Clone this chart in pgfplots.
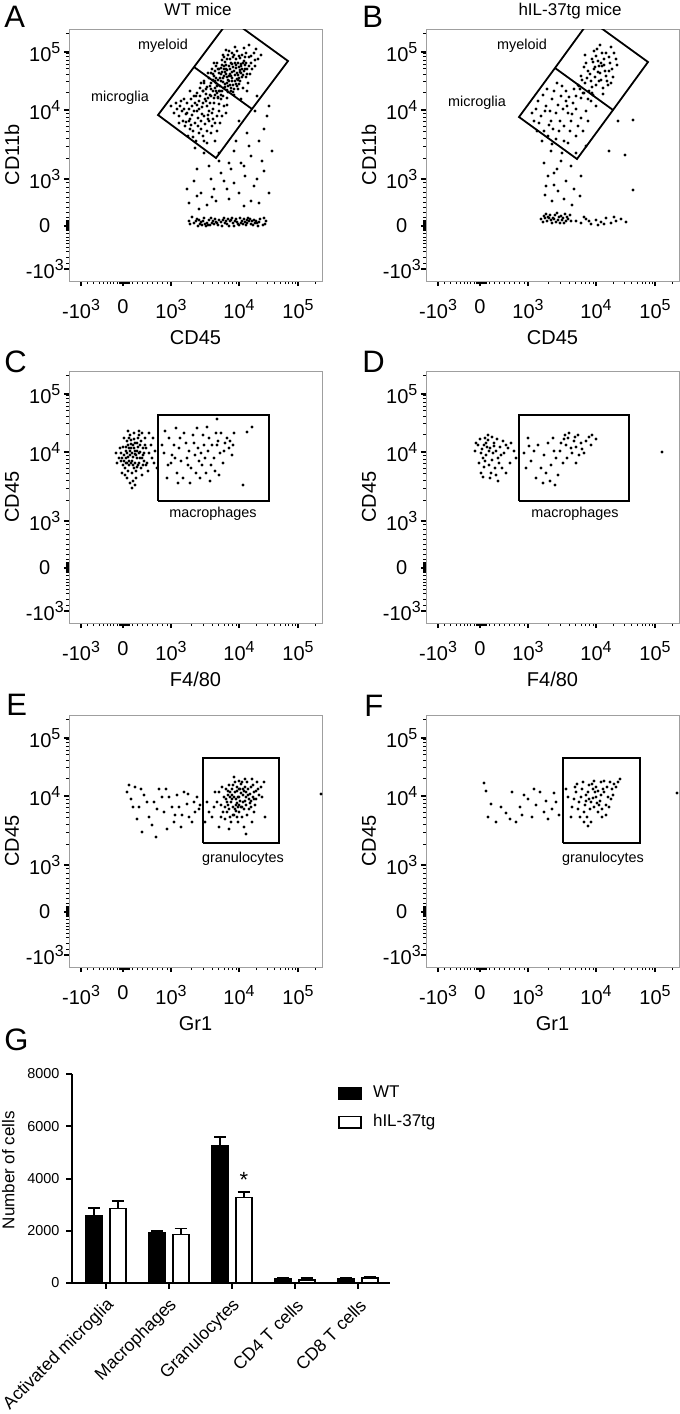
\documentclass[border=0pt]{standalone}
\usepackage{pgfplots}
\pgfplotsset{compat=1.18}
\usepackage{fontspec}
\setmainfont{Liberation Sans}
\newcommand{\tp}[1]{10\raisebox{3.8pt}{\fontsize{8}{8}\selectfont#1}}
\pgfplotsset{
  facs/.style={
    width=126.5pt, height=126pt, scale only axis,
    xmin=0, xmax=253, ymin=0, ymax=252,
    axis line style={gray!75, line width=0.4pt},
    tick align=outside, xtick pos=bottom, ytick pos=left,
    xtick={12,54,102,170,229}, ytick={12,55,102,171,229},
    xticklabels={-\tp{3},0,\tp{3},\tp{4},\tp{5}},
    yticklabels={-\tp{3},0,\tp{3},\tp{4},\tp{5}},
    minor xtick={18,24,30,34,38,41,44,48,50,51,52,53,55,56,57,58,59,60,63,68,73,78,83,88,93,98,122.5,134.4,143,149.5,155,159.5,163.4,167,187.8,198.2,205.5,211.2,216,219.9,223.3,226.3,246.8},
    minor ytick={18,24,30,34,38,41,44,48,51,52,53,54,56,57,58,59,60,61,64,69,74,79,84,89,94,99,122.5,134.4,143,149.5,155,159.5,163.4,167.5,188.8,199.2,206.5,212.2,217,220.9,224.3,227.3,247.8},
    major tick length=2.6pt, minor tick length=1.5pt,
    major tick style={black, line width=1.1pt},
    minor tick style={black, line width=0.45pt},
    tick label style={font=\fontsize{10}{11}\selectfont},
    xticklabel style={yshift=-3.2pt},
    yticklabel style={anchor=center, xshift=-9.5pt},
    label style={font=\fontsize{8.8}{10}\selectfont},
    every axis x label/.style={at={(axis description cs:0.5,-0.225)}, anchor=center},
    every axis y label/.style={at={(axis description cs:-0.225,0.5)}, rotate=90, anchor=center},
  },
  dots/.style={only marks, mark=*, mark size=0.5pt, mark options={draw=none, fill=black, fill opacity=#1}},
  dots/.default=0.5,
  gate/.style={black, line width=0.9pt, no marks, line join=miter},
  barleg/.style={legend image code/.code={\draw[##1] (0pt,-2.8pt) rectangle (11pt,2.8pt);}},
}
\tikzset{
  glab/.style={font=\fontsize{7.2}{8}\selectfont},
  plab/.style={anchor=base west, font=\fontsize{15.5}{16}\selectfont, inner sep=0pt},
}
\begin{document}
\begin{tikzpicture}
\useasboundingbox (0,0) rectangle (340pt,-707pt);

% ---------------- A ----------------
\node[plab] at (2pt,-13.5pt) {A};
\node[anchor=base, font=\fontsize{8.5}{10}\selectfont] at (99pt,-7.5pt) {WT mice};
\begin{axis}[facs, at={(34.5pt,-14.5pt)}, anchor=north west, xlabel={CD45}, ylabel={CD11b}]
\addplot[dots=0.4] coordinates {
(160,205) (152,200) (165,210) (170,214) (158,198) (148,195) (175,220) (168,202) (155,212) (162,218) (145,205) (172,208) (150,190) (178,212) (164,196) (157,207) (167,222) (153,216) (142,198) (171,200) (159,189) (180,224) (146,210) (163,228) (174,193) (151,203) (166,206) (156,194) (176,216) (149,184) (161,212) (169,218) (144,190) (182,218) (158,222) (154,199) (173,226) (140,203) (165,192) (185,228) (147,215) (177,204) (152,186) (168,230) (160,200) (143,212) (171,209) (157,216) (179,198) (150,208) (162,190) (186,215) (138,194) (170,225) (155,205) (175,233) (146,200) (164,214) (158,183) (181,207) (139,208) (167,197) (153,221) (189,222) (148,188) (172,217) (163,203) (159,226) (135,200) (178,190) (145,218) (166,234) (151,195) (183,212) (156,209) (174,206) (141,186) (169,192) (187,232) (154,226) (161,196) (176,224) (149,212) (134,190) (192,226) (165,186) (157,231) (180,236) (144,207) (170,203)
(161,207) (154,203) (167,213) (159,201) (163,209) (171,211) (156,197) (173,204) (149,201) (166,218) (158,211) (162,193) (175,210) (152,207) (168,195) (164,224) (147,198) (177,218) (155,215) (169,206)
(158,204) (163,200) (150,212) (166,200) (172,215) (160,215) (155,193) (168,208) (176,212) (153,209) (147,203) (161,222) (170,197) (157,212) (165,226) (174,218) (149,196) (180,215) (162,205) (144,201) (171,223) (159,195) (167,216) (152,213) (178,207) (156,219) (164,189) (173,212) (146,193) (182,225) (160,230) (151,190) (169,201) (155,224) (177,228) (142,208) (163,217) (186,221) (158,191) (148,218)
(130,180) (138,175) (125,170) (142,185) (120,160) (135,165) (145,178) (128,188) (115,172) (150,170) (140,160) (122,182) (132,152) (110,165) (147,190) (126,158) (137,192) (118,178) (152,182) (143,168) (108,172) (134,145) (124,150) (155,175) (129,163) (116,155) (146,158) (139,183) (121,190) (105,168) (133,174) (148,150) (127,140) (141,195) (112,180) (153,165) (136,157) (119,145) (144,172) (131,185) (102,175) (157,168) (123,166) (138,138) (114,160) (149,183) (128,176) (142,148) (120,172) (135,198) (110,158) (151,158) (125,185) (140,170) (117,167) (146,140) (132,160) (107,178) (154,185) (137,180) (126,133) (143,155) (121,152) (134,190) (113,170) (158,176) (130,148) (139,162)
(128,170) (136,182) (123,175) (141,178) (131,193) (118,168) (146,186) (133,167) (126,178) (139,166) (115,182) (144,162) (129,155) (137,187) (121,162) (150,177) (134,178) (111,175) (142,192) (127,185) (148,165) (124,144) (138,150) (117,159) (153,190) (130,172) (135,140) (122,156) (145,183) (132,198)
(170,160) (178,148) (186,170) (195,152) (165,130) (200,175) (182,125) (190,140) (172,182) (198,165) (175,115) (160,118) (188,185) (203,130)
(140,115) (152,108) (125,100) (165,98) (132,88) (176,105) (145,92) (160,82) (120,78) (185,95) (150,120) (128,112) (170,88) (138,76) (195,110) (155,100) (118,92) (182,80) (147,80) (162,112) (130,72) (190,78) (172,118) (142,102) (200,88)
(167,140) (180,135) (150,128) (193,120) (135,128) (158,92) (175,75) (128,85) (188,102) (143,84)
(120,60) (125,58) (128,62) (131,57) (134,60) (137,55) (140,61) (143,58) (146,62) (149,56) (152,59) (155,63) (158,57) (161,60) (164,58) (167,62) (170,56) (173,60) (176,59) (179,63) (182,57) (185,61) (188,58) (191,62) (194,56) (197,60) (123,64) (129,55) (135,63) (141,56) (147,59) (153,55) (159,62) (165,55) (171,63) (177,56) (183,60) (189,55) (195,63) (132,59) (138,58) (144,60) (150,61) (156,58) (162,61) (168,59) (174,57) (180,60) (186,58) (175,62) (130,61) (178,58) (133,56)
(121,57) (127,60) (136,57) (142,63) (148,58) (154,61) (160,55) (166,60) (172,58) (178,61) (184,56) (190,59) (196,57) (139,56) (157,60) (169,57) (181,62) (145,57) (163,63) (187,60)
};
\addplot[gate] coordinates {(161,262) (219,220) (183,172) (147,123) (89,166) (125,214) (161,262)};
\addplot[gate] coordinates {(125,214) (183,172)};
\node[glab] at (axis cs:94,235) {myeloid};
\node[glab] at (axis cs:51,183) {microglia};
\end{axis}

% ---------------- B ----------------
\node[plab] at (181pt,-13.5pt) {B};
\node[anchor=base, font=\fontsize{8.5}{10}\selectfont] at (285pt,-7.5pt) {hIL-37tg mice};
\begin{axis}[facs, at={(213pt,-14.5pt)}, anchor=north west, xlabel={CD45}, ylabel={CD11b}]
\addplot[dots=0.7] coordinates {
(174,208) (168,212) (180,205) (172,220) (165,200) (178,216) (170,196) (183,224) (162,210) (176,228) (186,212) (169,204) (159,198) (181,200) (173,215) (166,222) (188,228) (155,205) (177,193) (171,232) (163,190) (184,218) (158,214) (175,201) (167,186) (190,222) (179,210) (161,203) (185,234) (170,225) (152,196) (176,215) (164,207) (182,196) (157,188) (173,200) (187,204) (168,230) (160,218) (178,222) (150,185) (183,210) (166,194) (174,236) (156,201) (180,228) (169,214) (185,198) (162,182) (172,209) (154,192) (191,216) (167,219) (177,187) (159,226) (175,218)
(120,175) (130,168) (140,180) (125,160) (150,172) (135,185) (115,165) (145,160) (128,190) (155,183) (118,150) (138,155) (110,172) (148,192) (132,176) (122,145) (160,170) (142,168) (126,182) (113,158) (152,155) (136,195) (117,186) (158,188) (144,150) (130,142) (106,168) (165,180) (124,170) (140,190) (134,160) (112,180) (155,163) (127,152) (147,178) (121,192) (162,160) (137,172) (116,140) (150,145) (131,198) (143,184) (108,160) (170,175) (126,137) (157,150) (138,140) (119,170) (153,195) (133,150) (146,167) (123,156) (166,188) (111,150) (141,175)
(125,130) (135,120) (128,108) (145,115) (120,95) (140,100) (150,128) (132,90) (118,118) (155,105) (138,82) (126,80) (148,92) (160,135) (122,105) (142,138) (131,112) (154,85) (119,86) (136,128) (146,76) (128,96)
(207,161) (199,126) (207,91) (192,160) (183,130)
(115,62) (118,65) (121,60) (124,66) (127,63) (130,59) (133,64) (136,61) (139,67) (142,62) (145,60) (117,59) (120,67) (123,63) (126,58) (129,66) (132,61) (135,65) (138,58) (141,64) (144,66) (119,63) (125,61) (131,68) (137,63) (134,58) (128,62) (122,64) (140,60) (150,60) (155,58) (160,62) (165,57) (170,61) (175,59) (180,63) (185,58) (190,60) (195,62) (200,59) (158,64) (172,56) (188,64) (163,60) (178,57)
};
\addplot[gate] coordinates {(164,261) (222,219) (187,171) (151,122) (93,164) (129,213) (164,261)};
\addplot[gate] coordinates {(129,213) (187,171)};
\node[glab] at (axis cs:96,235) {myeloid};
\node[glab] at (axis cs:51,178) {microglia};
\end{axis}

% ---------------- C ----------------
\node[plab] at (2pt,-186pt) {C};
\begin{axis}[facs, at={(34.5pt,-185.5pt)}, anchor=north west, xlabel={F4/80}, ylabel={CD45}]
\addplot[dots=0.65] coordinates {
(64,166) (58,170) (70,160) (62,175) (55,162) (68,172) (74,168) (60,158) (66,180) (52,170) (72,155) (59,178) (77,175) (63,150) (56,155) (69,185) (50,165) (75,162) (61,168) (67,152) (54,176) (80,170) (65,190) (58,145) (71,178) (48,160) (73,148) (62,183) (57,172) (78,160) (66,160) (53,150) (70,192) (60,162) (82,178) (64,142) (55,185) (76,185) (68,165) (51,175) (63,170) (59,152) (74,175) (66,172) (57,165) (79,152) (61,188) (69,158) (54,158) (72,182) (65,155) (47,170) (83,165) (60,175) (67,145) (58,182) (75,170) (62,160) (70,170) (56,148) (64,178) (85,160) (59,192) (73,190) (66,138) (53,165) (77,158) (61,140) (68,180) (84,185) (57,160) (63,135) (71,165) (65,175) (80,190) (86,172) (88,155)
(61,172) (67,168) (57,176) (63,162) (69,176) (55,168) (71,171) (65,184) (59,166) (73,165) (62,179) (68,156) (58,160) (66,169) (76,178) (60,185) (64,158) (52,162) (70,188) (74,158)
(95,170) (102,160) (110,175) (118,165) (125,180) (132,170) (140,185) (148,178) (155,172) (100,185) (108,150) (115,190) (122,155) (130,162) (137,150) (145,165) (152,190) (160,175) (98,145) (105,178) (112,162) (120,172) (128,195) (135,178) (142,158) (150,148) (158,185) (163,168) (96,192) (103,168) (114,145) (124,188) (131,145) (139,172) (147,190) (154,160) (161,182) (107,195) (117,180) (127,150) (134,188) (143,178) (151,170) (99,158) (111,185) (121,140) (129,175) (138,196) (146,152) (156,180) (164,178) (106,165) (119,158) (136,165) (149,182) (93,178) (126,168) (141,142) (109,140) (133,158)
(174,138) (183,196) (148,204) (178,191) (165,190)
};
\addplot[gate] coordinates {(89,122) (200,122) (200,208) (89,208) (89,122)};
\node[glab] at (axis cs:144,109) {macrophages};
\end{axis}

% ---------------- D ----------------
\node[plab] at (181pt,-186pt) {D};
\begin{axis}[facs, at={(213pt,-185.5pt)}, anchor=north west, xlabel={F4/80}, ylabel={CD45}]
\addplot[dots=0.65] coordinates {
(64,175) (58,178) (70,172) (62,183) (55,170) (68,180) (74,176) (60,168) (66,186) (52,178) (72,165) (59,162) (77,182) (63,158) (56,174) (69,155) (50,180) (75,168) (61,176) (67,170) (54,184) (80,178) (65,150) (58,156) (71,184) (49,172) (73,160) (62,188) (57,165) (78,170) (66,163) (53,160) (70,148) (60,180) (82,175) (64,145) (55,150) (76,155) (68,177) (85,180) (63,172) (59,185) (88,172) (84,160) (90,165) (80,150) (72,142) (57,146)
(98,170) (105,162) (112,178) (120,150) (128,172) (135,180) (142,185) (148,182) (152,188) (140,178) (145,175) (150,176) (138,184) (155,180) (160,182) (165,178) (170,184) (102,185) (110,145) (118,168) (125,158) (132,148) (146,170) (158,170) (163,186) (108,172) (115,155) (122,180) (130,165) (137,160) (143,190) (156,174) (166,188) (100,155) (127,185) (134,172) (141,165) (149,186) (117,140) (124,142) (150,160) (103,177) (129,138) (139,188) (153,168)
(236,171)
};
\addplot[gate] coordinates {(93,122) (203,122) (203,208) (93,208) (93,122)};
\node[glab] at (axis cs:149,109) {macrophages};
\end{axis}

% ---------------- E ----------------
\node[plab] at (3pt,-357.5pt) {E};
\begin{axis}[facs, at={(34.5pt,-357.5pt)}, anchor=north west, xlabel={Gr1}, ylabel={CD45}]
\addplot[dots=0.65] coordinates {
(58,175) (62,168) (66,180) (70,160) (75,172) (80,150) (85,165) (90,178) (95,155) (100,170) (105,145) (110,160) (115,175) (120,150) (125,165) (130,158) (60,182) (68,148) (73,135) (78,165) (83,142) (88,158) (93,170) (98,138) (103,160) (108,172) (113,152) (118,163) (123,145) (128,170) (64,160) (87,130) (97,178) (112,140) (126,155) (72,178) (106,152) (119,173) (131,162)
(171,166) (165,170) (177,162) (160,158) (168,176) (174,172) (180,168) (158,165) (163,178) (185,175) (170,155) (176,180) (155,170) (182,160) (167,162) (172,183) (161,150) (187,168) (157,178) (178,152) (169,170) (164,160) (184,182) (152,162) (175,158) (166,185) (189,178) (159,172) (173,150) (181,173) (162,165) (170,162) (154,155) (186,162) (168,180) (177,170) (150,175) (183,188) (165,152) (179,178) (172,174) (160,182) (188,185) (156,148) (174,165) (167,168) (190,172) (163,172) (176,188) (158,155) (182,166) (148,165) (171,178) (185,155) (166,158) (153,180) (178,185) (162,145) (192,180) (168,150) (175,176) (159,162) (184,170) (145,160) (170,186) (180,158) (164,182) (195,185) (157,168) (173,160) (143,150) (187,176) (161,175) (169,145) (150,140) (160,138) (175,140) (140,155) (146,175) (165,190) (193,170) (152,150) (177,133) (138,165) (183,145)
(170,170) (166,175) (176,166) (172,160) (163,168) (179,172) (168,164) (174,178) (161,170) (181,164) (167,156) (173,185) (159,176) (185,168) (170,178) (164,152) (177,175) (156,160) (182,180) (169,160)
(252,173) (196,150) (136,145)
};
\addplot[gate] coordinates {(134,124) (210,124) (210,209) (134,209) (134,124)};
\node[glab] at (axis cs:174,108) {granulocytes};
\end{axis}

% ---------------- F ----------------
\node[plab] at (182pt,-358pt) {F};
\begin{axis}[facs, at={(213pt,-357.5pt)}, anchor=north west, xlabel={Gr1}, ylabel={CD45}]
\addplot[dots=0.65] coordinates {
(58,184) (60,176) (62,150) (65,163) (70,145) (75,160) (80,154) (86,175) (90,145) (94,160) (98,172) (102,168) (106,150) (110,162) (114,175) (118,155) (122,148) (126,158) (130,165) (133,152) (84,148) (96,152) (108,178) (120,166) (128,174)
(167,169) (160,172) (174,166) (156,178) (170,180) (178,175) (182,170) (153,165) (163,182) (186,178) (168,160) (175,185) (150,175) (180,162) (165,165) (172,176) (158,155) (188,183) (155,170) (176,158) (162,175) (170,170) (184,185) (148,168) (173,162) (166,183) (190,180) (159,162) (177,178) (161,150) (185,168) (152,158) (169,175) (164,158) (181,180) (157,185) (171,164) (146,160) (178,186) (163,168) (192,185) (154,150) (175,172) (167,178) (183,160) (149,180) (172,155) (160,166) (187,172) (165,145) (142,170) (158,145) (176,150) (145,150) (180,152) (168,186) (151,183) (194,188) (140,178) (162,141)
(251,174)
};
\addplot[gate] coordinates {(137,124) (214,124) (214,209) (137,209) (137,124)};
\node[glab] at (axis cs:177,108) {granulocytes};
\end{axis}

% ---------------- G ----------------
\node[plab] at (2pt,-525pt) {G};
\begin{axis}[at={(36pt,-537pt)}, anchor=north west, width=159pt, height=104.5pt, scale only axis,
  xmin=-0.54, xmax=4.51, ymin=0, ymax=8000,
  axis x line*=bottom, axis y line*=left,
  axis line style={line width=1pt, black},
  tick align=outside,
  xtick={0,1,2,3,4},
  xticklabels={Activated microglia,Macrophages,Granulocytes,CD4 T cells,CD8 T cells},
  ytick={0,2000,4000,6000,8000}, yticklabels={0,2000,4000,6000,8000},
  scaled y ticks=false,
  major tick length=2.8pt, major tick style={black, line width=1pt},
  tick label style={font=\fontsize{7.2}{8}\selectfont},
  xticklabel style={font=\fontsize{8.8}{9}\selectfont, xshift=5pt, yshift=-4.5pt, rotate=45, anchor=east},
  ylabel={Number of cells},
  every axis y label/.style={at={(axis description cs:-0.2,0.54)}, rotate=90, anchor=center, font=\fontsize{8.5}{10}\selectfont},
  legend style={at={(axis description cs:0.836,0.965)}, anchor=north west, draw=none, fill=none,
    font=\fontsize{8.5}{10}\selectfont, row sep=3pt, column sep=3.5pt, inner sep=0pt, cells={anchor=west}},
  clip=false,
]
\addplot[ybar, bar width=8pt, bar shift=0pt, fill=black, draw=black, line width=0.9pt, barleg,
  error bars/.cd, y dir=plus, y explicit,
  error bar style={line width=0.9pt, black},
  error mark options={rotate=90, mark size=3pt, line width=0.9pt, black}]
  coordinates {(-0.187,2570) +- (0,300) (0.813,1920) +- (0,60) (1.813,5265) +- (0,320) (2.813,153) +- (0,60) (3.813,140) +- (0,50)};
\addplot[ybar, bar width=8pt, bar shift=0pt, fill=white, draw=black, line width=0.9pt, barleg,
  error bars/.cd, y dir=plus, y explicit,
  error bar style={line width=0.9pt, black},
  error mark options={rotate=90, mark size=3pt, line width=0.9pt, black}]
  coordinates {(0.187,2850) +- (0,280) (1.187,1853) +- (0,230) (2.187,3272) +- (0,200) (3.187,128) +- (0,50) (4.187,192) +- (0,40)};
\legend{WT,hIL-37tg}
\node[font=\fontsize{11}{11}\selectfont, inner sep=0pt, anchor=north] at (axis cs:2.19,4250) {*};
\end{axis}
\end{tikzpicture}
\end{document}
